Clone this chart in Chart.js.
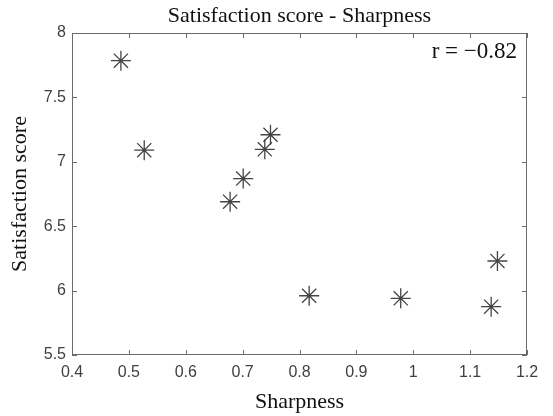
<!DOCTYPE html>
<html>
<head>
<meta charset="utf-8">
<script src="https://cdn.jsdelivr.net/npm/chart.js@4"></script>
<style>
  body { margin: 0; background: #fff; }
</style>
</head>
<body>
<canvas id="graficoNitidez" width="553" height="416"></canvas>
<script>
// Datos
const sharpness = [0.486, 0.527, 0.678, 0.701, 0.739, 0.749, 0.817, 0.978, 1.137, 1.148];
const satisfaction = [7.785, 7.09, 6.69, 6.87, 7.097, 7.21, 5.96, 5.94, 5.875, 6.23];
const xTicks = [0.4, 0.5, 0.6, 0.7, 0.8, 0.9, 1, 1.1, 1.2];
const yTicks = [5.5, 6, 6.5, 7, 7.5, 8];
const corrLabel = 'r = \u22120.82';

const ejeColor = '#6b6b6b';
const tickFont = { family: 'Liberation Sans', size: 16 };
const serif = 'Liberation Serif';

// Marco tipo MATLAB: caja completa con marcas hacia dentro
const marcoEjes = {
    id: 'marcoEjes',
    afterDraw(chart) {
        const ctx = chart.ctx;
        const a = chart.chartArea;
        const sx = chart.scales.x;
        const sy = chart.scales.y;
        const largo = 5;
        ctx.save();
        ctx.strokeStyle = ejeColor;
        ctx.lineWidth = 1;
        ctx.strokeRect(a.left + 0.5, a.top + 0.5, a.right - a.left - 1, a.bottom - a.top - 1);
        ctx.beginPath();
        xTicks.forEach(v => {
            const px = Math.round(sx.getPixelForValue(v)) + 0.5;
            ctx.moveTo(px, a.bottom);
            ctx.lineTo(px, a.bottom - largo);
            ctx.moveTo(px, a.top);
            ctx.lineTo(px, a.top + largo);
        });
        yTicks.forEach(v => {
            const py = Math.round(sy.getPixelForValue(v)) + 0.5;
            ctx.moveTo(a.left, py);
            ctx.lineTo(a.left + largo, py);
            ctx.moveTo(a.right, py);
            ctx.lineTo(a.right - largo, py);
        });
        ctx.stroke();

        ctx.fillStyle = '#111';
        ctx.font = '23px "' + serif + '"';
        ctx.textAlign = 'right';
        ctx.textBaseline = 'alphabetic';
        ctx.fillText(corrLabel, a.right - 10, a.top + 25);
        ctx.restore();
    }
};

const ctxNitidez = document.getElementById('graficoNitidez').getContext('2d');
const chartNitidez = new Chart(ctxNitidez, {
    type: 'scatter',
    data: {
        datasets: [{
            data: sharpness.map((x, i) => ({ x: x, y: satisfaction[i] })),
            pointStyle: 'star',
            pointRadius: 10,
            pointHoverRadius: 10,
            borderColor: '#444',
            backgroundColor: '#444',
            borderWidth: 1.3,
        }],
    },
    options: {
        responsive: false,
        animation: false,
        layout: {
            padding: { right: 26 }
        },
        plugins: {
            legend: { display: false },
            tooltip: { enabled: false },
            title: {
                display: true,
                text: 'Satisfaction score - Sharpness',
                color: '#111',
                fullSize: false,
                font: { family: serif, size: 22, weight: 'normal', lineHeight: 1 },
                padding: { top: 5, bottom: 6 }
            }
        },
        scales: {
            x: {
                type: 'linear',
                min: 0.4,
                max: 1.2,
                afterBuildTicks: scale => { scale.ticks = xTicks.map(v => ({ value: v })); },
                afterFit: scale => { scale.height = 61; },
                grid: { display: false, drawTicks: false },
                border: { display: false },
                ticks: {
                    color: '#404040',
                    font: tickFont,
                    padding: 8,
                    maxRotation: 0,
                    callback: v => String(v)
                },
                title: {
                    display: true,
                    text: 'Sharpness',
                    color: '#111',
                    font: { family: serif, size: 22, lineHeight: 1 },
                    padding: { top: 0, bottom: 3 }
                }
            },
            y: {
                type: 'linear',
                min: 5.5,
                max: 8,
                afterBuildTicks: scale => { scale.ticks = yTicks.map(v => ({ value: v })); },
                afterFit: scale => { scale.width = 72; },
                grid: { display: false, drawTicks: false },
                border: { display: false },
                ticks: {
                    color: '#404040',
                    font: tickFont,
                    padding: 6,
                    callback: v => String(v)
                },
                title: {
                    display: true,
                    text: 'Satisfaction score',
                    color: '#111',
                    font: { family: serif, size: 22, lineHeight: 1 },
                    padding: { top: 9, bottom: 0 }
                }
            }
        }
    },
    plugins: [marcoEjes]
});
</script>
</body>
</html>
